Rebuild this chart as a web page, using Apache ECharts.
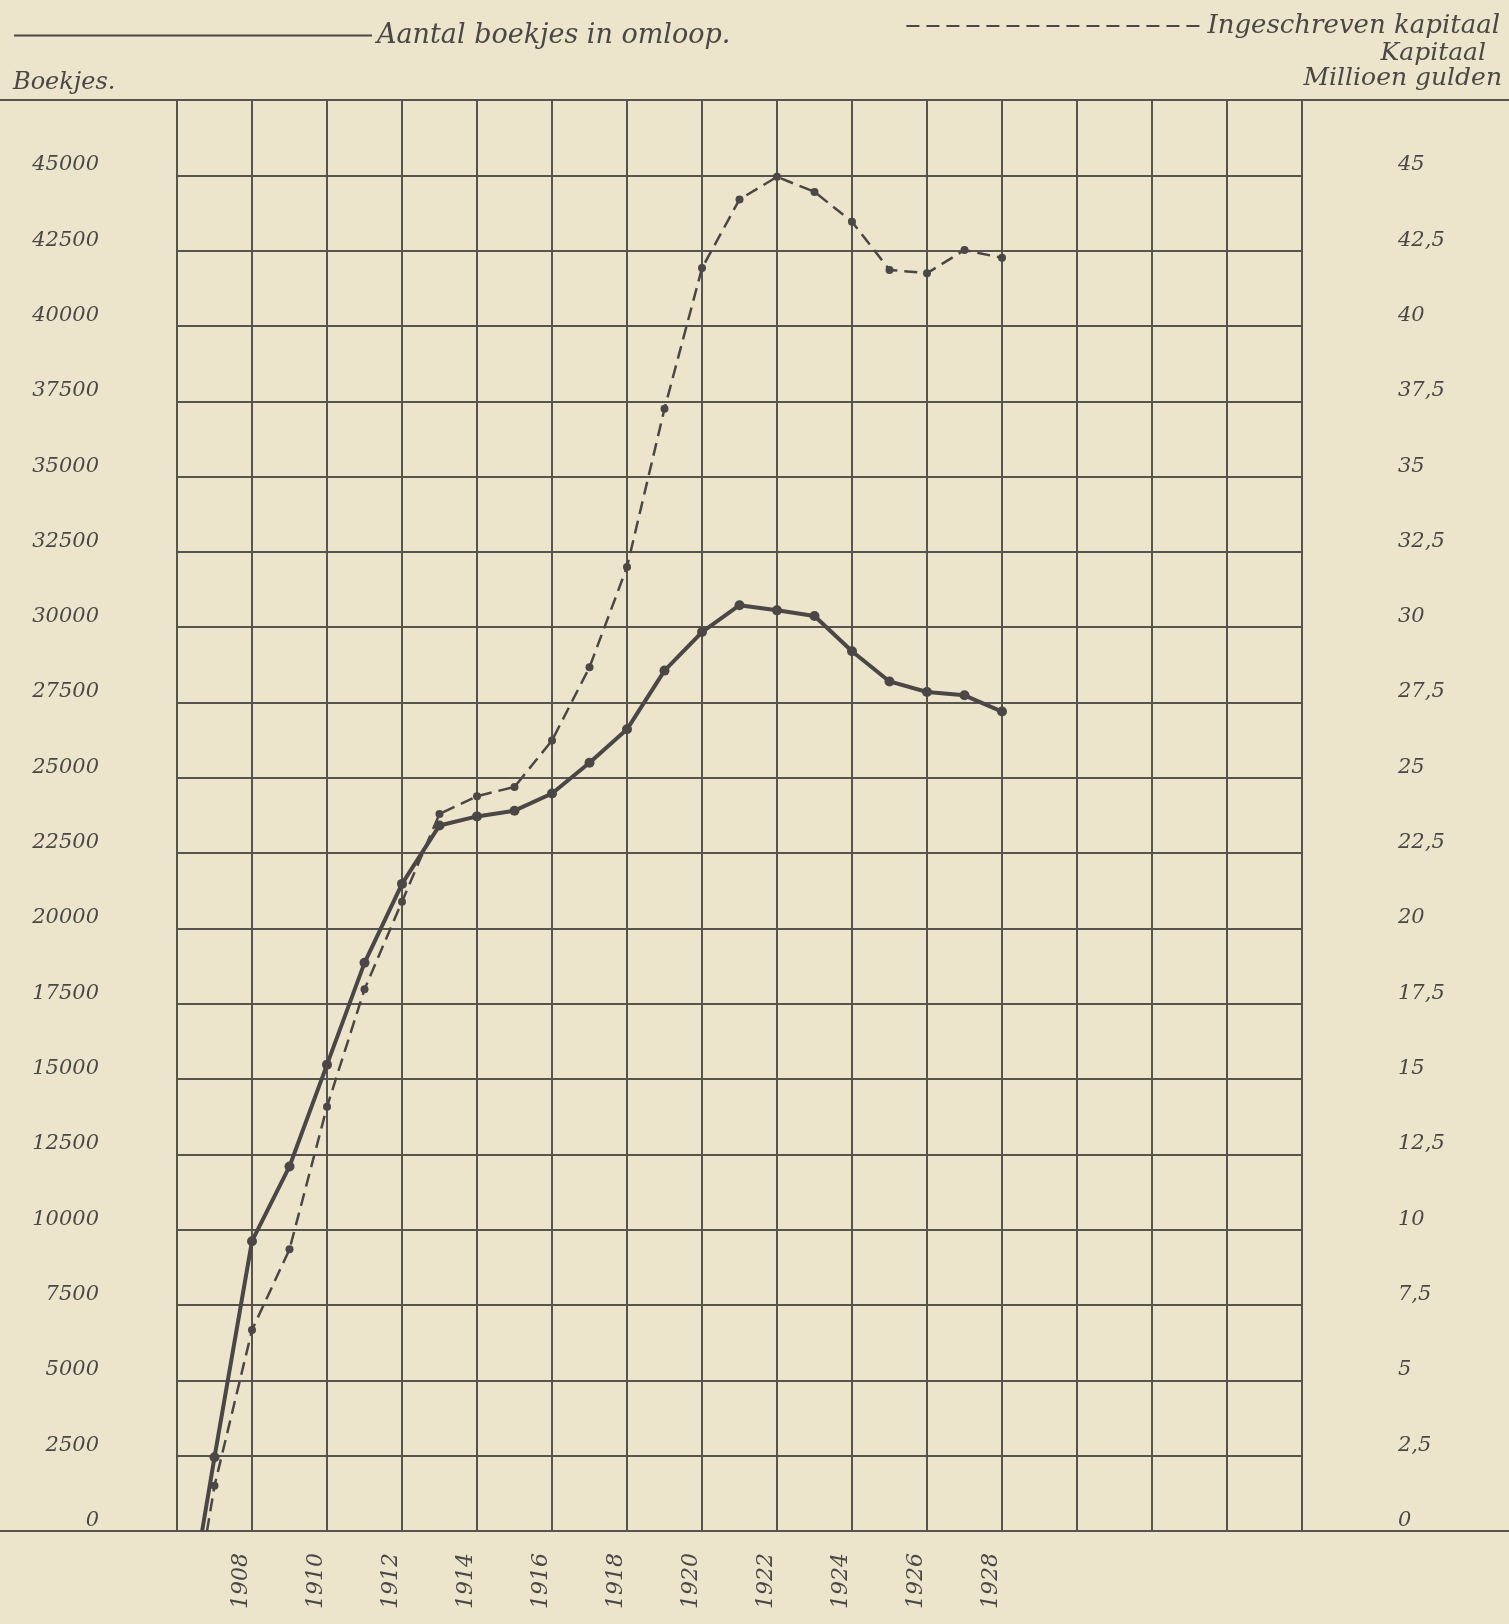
<!DOCTYPE html>
<html>
<head>
<meta charset="utf-8">
<script src="https://cdn.jsdelivr.net/npm/echarts@6/dist/echarts.min.js"></script>
<style>
html,body{margin:0;padding:0;background:#ece5cc;}
#c{width:1509px;height:1624px;}
</style>
</head>
<body>
<div id="c"></div>
<script>
// ---- data ----
const years = [1907,1908,1909,1910,1911,1912,1913,1914,1915,1916,1917,1918,1919,1920,1921,1922,1923,1924,1925,1926,1927,1928];
// Aantal boekjes in omloop (left axis)
const boekjes = [2450,9620,12100,15480,18860,21480,23420,23720,23910,24480,25500,26610,28560,29840,30730,30560,30370,29200,28200,27850,27740,27200];
// Ingeschreven kapitaal, millioen gulden (right axis)
const kapitaal = [1.5,6.67,9.35,14.08,17.98,20.89,23.8,24.39,24.7,26.24,28.67,32.0,37.25,41.92,44.2,44.95,44.45,43.46,41.86,41.75,42.52,42.26];
// where each curve leaves the zero line
const boekjesStart = [1906.67, 0];
const kapitaalStart = [1906.8, 0];
// tick labels
const yearLabels = [1908,1910,1912,1914,1916,1918,1920,1922,1924,1926,1928];
const leftMax = 45000;
const rightMax = 45;

const FONT = 'DejaVu Serif';
const INK = '#4a4746';
const GRIDC = '#57534f';

const solidData = [{value: boekjesStart, symbol: 'none'}].concat(years.map((y, i) => [y, boekjes[i]]));
const dashData = [{value: kapitaalStart, symbol: 'none'}].concat(years.map((y, i) => [y, kapitaal[i]]));

const chart = echarts.init(document.getElementById('c'), null, {renderer: 'canvas'});
const txt = {fontFamily: FONT, fontStyle: 'italic', color: INK};

chart.setOption({
  backgroundColor: '#ece5cc',
  animation: false,
  title: [
    {text: 'Boekjes.', left: 8, top: 66, textStyle: Object.assign({fontSize: 24, fontWeight: 'normal'}, txt)},
    {text: 'Kapitaal', right: 18, top: 36, textStyle: Object.assign({fontSize: 25, fontWeight: 'normal'}, txt)},
    {text: 'Millioen gulden', right: 2, top: 61, textStyle: Object.assign({fontSize: 25, fontWeight: 'normal'}, txt)}
  ],
  legend: [
    {
      left: 8, top: 17, itemWidth: 358, itemHeight: 14, itemGap: 18,
      data: ['Aantal boekjes in omloop.'],
      itemStyle: {opacity: 0},
      textStyle: Object.assign({fontSize: 27}, txt),
      selectedMode: false
    },
    {
      right: 4, top: 8, itemWidth: 296, itemHeight: 14, itemGap: 20,
      data: ['Ingeschreven kapitaal'],
      itemStyle: {opacity: 0},
      textStyle: Object.assign({fontSize: 26}, txt),
      selectedMode: false
    }
  ],
  grid: [
    {left: 177, right: 207, top: 100, bottom: 93},
    {left: 0, right: 0, top: 100, bottom: 93}
  ],
  xAxis: [
    {
      type: 'value', gridIndex: 0, min: 1906, max: 1936, interval: 2,
      axisLine: {show: true, lineStyle: {color: GRIDC, width: 2}},
      axisTick: {show: false},
      splitLine: {show: true, lineStyle: {color: GRIDC, width: 2}},
      axisLabel: {
        rotate: 90, margin: 22, verticalAlign: 'bottom',
        fontFamily: FONT, fontStyle: 'italic', fontSize: 22, color: INK,
        formatter: v => yearLabels.indexOf(v) >= 0 ? String(v) : ''
      }
    },
    {
      type: 'value', gridIndex: 1, min: 0, max: 1, position: 'bottom',
      axisLine: {show: true, onZero: false, lineStyle: {color: GRIDC, width: 2}},
      axisTick: {show: false}, axisLabel: {show: false}, splitLine: {show: false}
    },
    {
      type: 'value', gridIndex: 1, min: 0, max: 1, position: 'top',
      axisLine: {show: true, onZero: false, lineStyle: {color: GRIDC, width: 2}},
      axisTick: {show: false}, axisLabel: {show: false}, splitLine: {show: false}
    }
  ],
  yAxis: [
    {
      type: 'value', gridIndex: 0, position: 'left', min: 0, max: 47500, interval: 2500,
      axisLine: {show: true, lineStyle: {color: GRIDC, width: 2}},
      axisTick: {show: false},
      splitLine: {show: true, lineStyle: {color: GRIDC, width: 2}},
      axisLabel: {
        margin: 78, verticalAlign: 'bottom',
        fontFamily: FONT, fontStyle: 'italic', fontSize: 21, color: INK,
        formatter: v => v <= leftMax ? String(v) : ''
      }
    },
    {
      type: 'value', gridIndex: 0, position: 'right', min: 0, max: 47.5, interval: 2.5,
      axisLine: {show: true, lineStyle: {color: GRIDC, width: 2}},
      axisTick: {show: false},
      splitLine: {show: false},
      axisLabel: {
        margin: 96, verticalAlign: 'bottom', align: 'left',
        fontFamily: FONT, fontStyle: 'italic', fontSize: 21, color: INK,
        formatter: v => v <= rightMax ? String(v).replace('.', ',') : ''
      }
    },
    {type: 'value', gridIndex: 1, min: 0, max: 1, show: false}
  ],
  series: [
    {
      name: 'Aantal boekjes in omloop.', type: 'line',
      xAxisIndex: 0, yAxisIndex: 0,
      data: solidData,
      symbol: 'circle', symbolSize: 10,
      itemStyle: {color: INK},
      lineStyle: {color: INK, width: 4, type: 'solid'},
      z: 5
    },
    {
      name: 'Ingeschreven kapitaal', type: 'line',
      xAxisIndex: 0, yAxisIndex: 1,
      data: dashData,
      symbol: 'circle', symbolSize: 8,
      itemStyle: {color: INK},
      lineStyle: {color: INK, width: 2.5, type: [13, 7]},
      z: 4
    }
  ]
});
</script>
</body>
</html>
